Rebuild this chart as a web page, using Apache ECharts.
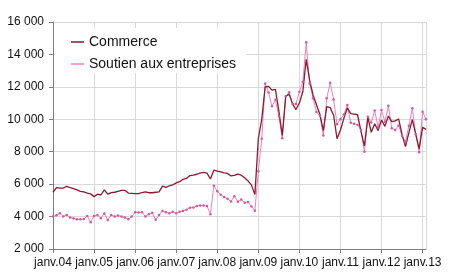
<!DOCTYPE html>
<html>
<head>
<meta charset="utf-8">
<script src="https://cdn.jsdelivr.net/npm/echarts@6/dist/echarts.min.js"></script>
<style>
  html, body { margin: 0; padding: 0; background: #fff; }
  #main { width: 450px; height: 280px; }
</style>
</head>
<body>
<div id="main"></div>
<script>
// mois janv.04 -> févr.13
var monthNames = ['janv.', 'févr.', 'mars', 'avr.', 'mai', 'juin', 'juil.', 'août', 'sept.', 'oct.', 'nov.', 'déc.']
var years = ['04', '05', '06', '07', '08', '09', '10', '11', '12', '13']
var nbMonths = 110

var categories = []
for (var i = 0; i < nbMonths; i++) {
  categories.push(monthNames[i % 12] + years[Math.floor(i / 12)])
}

var commerce = [
  5500, 5790, 5760, 5760, 5860, 5780, 5720, 5640, 5560, 5520, 5450, 5400,
  5230, 5380, 5330, 5650, 5380, 5480, 5500, 5560, 5620, 5620, 5450, 5430,
  5410, 5420, 5480, 5530, 5470, 5470, 5500, 5520, 5880, 5800, 5900, 5950,
  6080, 6150, 6300, 6350, 6530, 6560, 6610, 6680, 6720, 6680, 6320, 6860,
  6810, 6760, 6700, 6660, 6510, 6540, 6620, 6550, 6390, 6200, 5940, 5360,
  8800, 10000, 12000, 12030, 11800, 11850, 10500, 9000, 11400, 11550, 10950, 10600,
  11000, 11700, 13700, 12400, 11500, 10900, 10300, 9300, 10780, 10720, 10250, 8800,
  9340, 10060, 10700, 10350, 10320, 10280, 9250, 8350, 10120, 9200, 9720, 9300,
  9960, 9560, 10200, 9860, 9900, 10020, 9050, 8310, 9180, 9980, 9080, 8180,
  9500, 9380
]

var soutien = [
  4000, 4080, 4200, 4000, 4100, 3950, 3880, 3830, 3830, 3850, 4040, 3650,
  4040, 4100, 3900, 4190, 3790, 4100, 4000, 4060, 4000, 3940, 3830, 4000,
  4270, 4250, 4270, 4000, 4140, 4240, 3800, 4100, 4350, 4270, 4200, 4300,
  4200, 4300, 4350, 4420, 4550, 4560, 4650, 4680, 4680, 4650, 4140, 5900,
  5560, 5350, 5200, 5100, 4930, 5250, 4920, 5050, 4850, 4900, 4620, 4360,
  6800, 8800, 12200, 11650, 10800, 11200, 10200, 8830, 11420, 11670, 10950, 10950,
  11700, 12300, 14750, 12200, 11300, 10450, 10200, 9000, 11300, 12260, 11220, 9700,
  10000, 10300, 10880, 9780, 9720, 9650, 9340, 8000, 10160, 9800, 10540, 9500,
  10570, 9850, 10830, 9440, 9340, 9620, 8980, 8620, 9600, 10680, 9080, 7970,
  10470, 10000
]

var yMin = 2000
var yMax = 16000
var yStep = 2000

function fmtNombre(v) {
  return String(v).replace(/\B(?=(\d{3})+(?!\d))/g, ' ')
}

var myChart = echarts.init(document.getElementById('main'))
myChart.setOption({
  animation: false,
  textStyle: { fontFamily: 'Liberation Sans, Arial, sans-serif' },
  grid: { left: 53, right: 24, top: 22, bottom: 31 },
  legend: {
    data: [
      { name: 'Commerce', icon: 'rect', itemStyle: { color: '#8b1a30' } },
      { name: 'Soutien aux entreprises', icon: 'rect', itemStyle: { color: '#f080b8' } }
    ],
    orient: 'vertical',
    left: 55,
    top: 28,
    backgroundColor: '#fff',
    padding: [7, 10, 2, 16],
    itemWidth: 13,
    itemHeight: 1.5,
    itemGap: 8,
    textStyle: { fontSize: 14, color: '#111' }
  },
  xAxis: {
    type: 'category',
    data: categories,
    boundaryGap: false,
    axisLine: { lineStyle: { color: '#808080' } },
    axisTick: {
      length: 4,
      interval: function (idx) { return idx % 12 === 0 },
      lineStyle: { color: '#808080' }
    },
    axisLabel: {
      interval: function (idx) { return idx % 12 === 0 },
      fontSize: 12,
      color: '#111',
      margin: 8
    },
    splitLine: {
      show: true,
      interval: function (idx) { return idx % 12 === 0 || idx === nbMonths - 1 },
      lineStyle: { color: '#d9d9d9' }
    }
  },
  yAxis: {
    type: 'value',
    min: yMin,
    max: yMax,
    interval: yStep,
    axisLine: { show: true, lineStyle: { color: '#808080' } },
    axisTick: { show: true, length: 4, lineStyle: { color: '#808080' } },
    axisLabel: {
      fontSize: 12,
      color: '#111',
      margin: 9,
      formatter: fmtNombre
    },
    splitLine: { lineStyle: { color: '#d9d9d9' } }
  },
  series: [
    {
      name: 'Soutien aux entreprises',
      type: 'line',
      data: soutien,
      symbol: 'circle',
      symbolSize: 2.5,
      showAllSymbol: true,
      lineStyle: { color: '#f080b8', width: 1 },
      itemStyle: { color: '#d6589a' }
    },
    {
      name: 'Commerce',
      type: 'line',
      data: commerce,
      symbol: 'none',
      lineStyle: { color: '#8b1a30', width: 1.3 },
      itemStyle: { color: '#8b1a30' }
    }
  ]
})
</script>
</body>
</html>
